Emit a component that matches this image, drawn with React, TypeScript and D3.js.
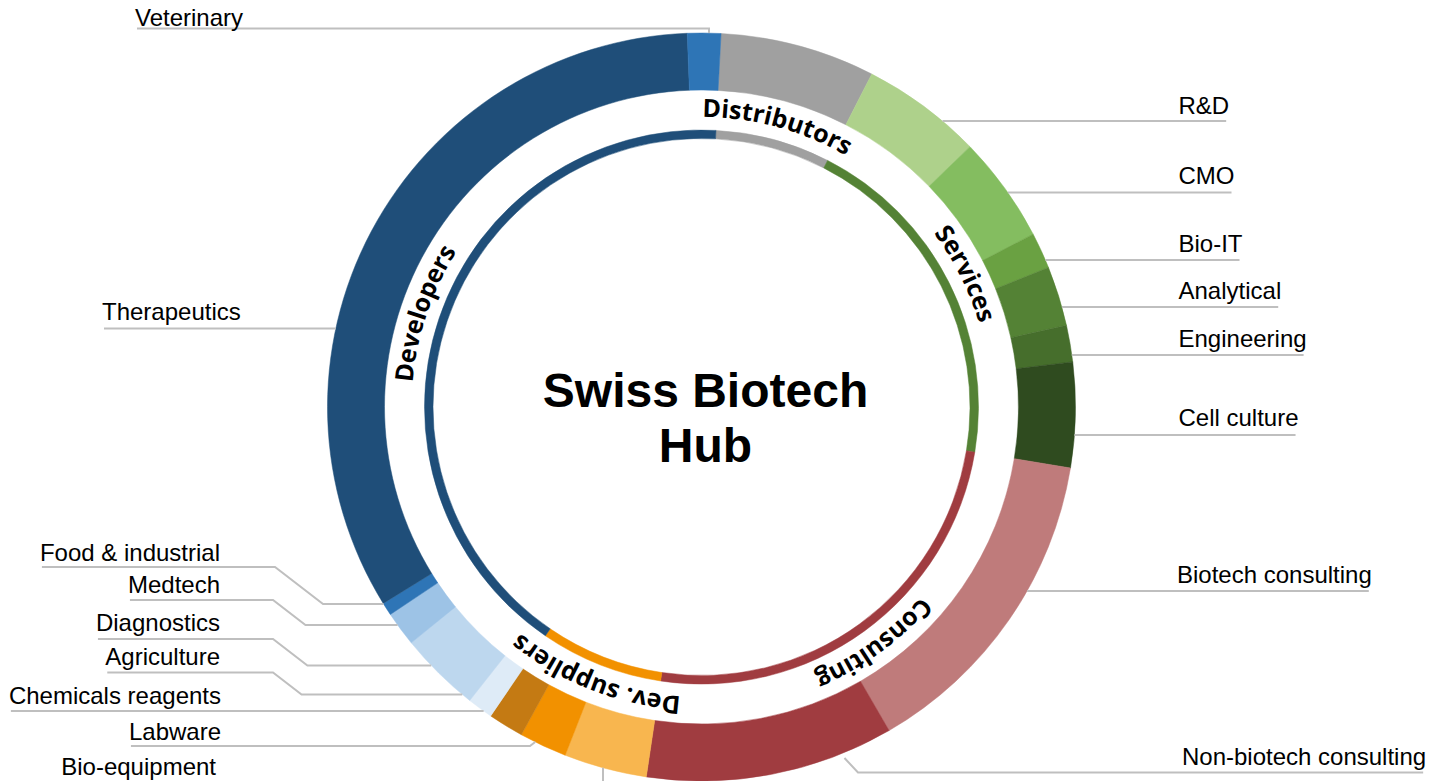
import * as d3 from 'd3';
import React, { useRef, useEffect } from 'react';

// outer ring, clockwise from the top (Distributors starts just right of 12 o'clock)
const segments = [
  'Distributors', 'R&D', 'CMO', 'Bio-IT', 'Analytical', 'Engineering', 'Cell culture',
  'Biotech consulting', 'Non-biotech consulting', 'Bio-equipment', 'Labware',
  'Chemicals reagents', 'Agriculture', 'Diagnostics', 'Medtech', 'Food & industrial',
  'Therapeutics', 'Veterinary'
];
// share of companies, %
const shares = [6.69, 5.22, 4.61, 1.56, 2.58, 1.58, 4.53, 14.03, 10.72, 3.58, 2.06, 1.53, 1.11, 3.5, 1.5, 0.56, 33.19, 1.44];
const segmentGroup = [
  'Distributors', 'Services', 'Services', 'Services', 'Services', 'Services', 'Services',
  'Consulting', 'Consulting', 'Dev. suppliers', 'Dev. suppliers', 'Dev. suppliers',
  'Developers', 'Developers', 'Developers', 'Developers', 'Developers', 'Developers'
];
const segmentColors = [
  '#a0a0a0', '#aed18b', '#84bd60', '#6aa142', '#548235', '#466e2c', '#2f4b1f',
  '#bf7b7b', '#a03c40', '#f8b64f', '#f29100', '#c47a13',
  '#deebf7', '#bdd7ee', '#9dc3e6', '#2e75b6', '#1f4e79', '#2e75b6'
];
const groups = ['Distributors', 'Services', 'Consulting', 'Dev. suppliers', 'Developers'];
const groupColors = ['#a0a0a0', '#548235', '#a03c40', '#f29100', '#1f4e79'];
const titleLines = ['Swiss Biotech', 'Hub'];

interface LabelLayout {
  name: string;
  side: 'left' | 'right';
  x: number;
  anchor: 'start' | 'end';
  baseline: number;
  lineY: number;
  elbowX?: number;
  anchorY?: number;
  vertical?: boolean;
}

const labelLayout: LabelLayout[] = [
  { name: 'Veterinary', side: 'left', x: 135, anchor: 'start', baseline: 26, lineY: 28.5, elbowX: 709, vertical: true },
  { name: 'Therapeutics', side: 'left', x: 102, anchor: 'start', baseline: 320, lineY: 328.5 },
  { name: 'Food & industrial', side: 'left', x: 220, anchor: 'end', baseline: 561, lineY: 567, elbowX: 275, anchorY: 604 },
  { name: 'Medtech', side: 'left', x: 220, anchor: 'end', baseline: 593, lineY: 600, elbowX: 273, anchorY: 625 },
  { name: 'Diagnostics', side: 'left', x: 220, anchor: 'end', baseline: 631, lineY: 639, elbowX: 273, anchorY: 665.5 },
  { name: 'Agriculture', side: 'left', x: 220, anchor: 'end', baseline: 664.5, lineY: 672.5, elbowX: 273, anchorY: 694.5 },
  { name: 'Chemicals reagents', side: 'left', x: 221, anchor: 'end', baseline: 703.5, lineY: 711 },
  { name: 'Labware', side: 'left', x: 221, anchor: 'end', baseline: 739.5, lineY: 746, elbowX: 530, anchorY: 742 },
  { name: 'Bio-equipment', side: 'left', x: 216, anchor: 'end', baseline: 775, lineY: 785, elbowX: 603, vertical: true },
  { name: 'R&D', side: 'right', x: 1178.5, anchor: 'start', baseline: 113.5, lineY: 121 },
  { name: 'CMO', side: 'right', x: 1178.5, anchor: 'start', baseline: 183.5, lineY: 192.5 },
  { name: 'Bio-IT', side: 'right', x: 1178.5, anchor: 'start', baseline: 252, lineY: 260 },
  { name: 'Analytical', side: 'right', x: 1178.5, anchor: 'start', baseline: 298.5, lineY: 307 },
  { name: 'Engineering', side: 'right', x: 1178.5, anchor: 'start', baseline: 347, lineY: 355 },
  { name: 'Cell culture', side: 'right', x: 1178.5, anchor: 'start', baseline: 425.5, lineY: 435 },
  { name: 'Biotech consulting', side: 'right', x: 1177, anchor: 'start', baseline: 583, lineY: 591 },
  { name: 'Non-biotech consulting', side: 'right', x: 1182, anchor: 'start', baseline: 765, lineY: 772.5, elbowX: 858, anchorY: 758 },
];

const App: React.FC = () => {
  const ref = useRef<SVGSVGElement>(null);

  useEffect(() => {
    if (!ref.current) return;
    const cx = 701.5, cy = 407;
    const outerR = 374, innerR = 317;
    const ringOuter = 277, ringInner = 268.5;
    const labelR = 290;
    const start = 3.0 * Math.PI / 180;

    const svg = d3.select(ref.current);
    svg.selectAll('*').remove();
    const g = svg.append('g').attr('transform', `translate(${cx},${cy})`);

    const data = segments.map((name, i) => ({
      name, value: shares[i], group: segmentGroup[i], color: segmentColors[i]
    }));

    const pie = d3.pie<any>()
      .value(d => d.value)
      .sort(null)
      .startAngle(start)
      .endAngle(start + 2 * Math.PI);

    const arc = d3.arc<any>().innerRadius(innerR).outerRadius(outerR);
    g.selectAll('.seg')
      .data(pie(data))
      .enter()
      .append('path')
      .attr('class', 'seg')
      .attr('d', arc)
      .attr('fill', d => d.data.color)
      .attr('stroke', d => d.data.color)
      .attr('stroke-width', 0.5);

    // inner ring = group totals
    const totals = groups.map((name, i) => ({
      name,
      color: groupColors[i],
      value: d3.sum(data.filter(d => d.group === name), d => d.value)
    }));
    const groupArcs = pie(totals);
    const ringArc = d3.arc<any>().innerRadius(ringInner).outerRadius(ringOuter);
    g.selectAll('.grp')
      .data(groupArcs)
      .enter()
      .append('path')
      .attr('class', 'grp')
      .attr('d', ringArc)
      .attr('fill', d => d.data.color)
      .attr('stroke', d => d.data.color)
      .attr('stroke-width', 0.5);

    // curved group names, centred on each group's middle angle
    const pt = (a: number, r: number) => [r * Math.sin(a), -r * Math.cos(a)];
    const half = 70 * Math.PI / 180;
    groupArcs.forEach((d, i) => {
      const mid = (d.startAngle + d.endAngle) / 2;
      const [x0, y0] = pt(mid - half, labelR);
      const [x1, y1] = pt(mid + half, labelR);
      g.append('path')
        .attr('id', `grp-path-${i}`)
        .attr('d', `M${x0},${y0} A${labelR},${labelR} 0 0 1 ${x1},${y1}`)
        .attr('fill', 'none');
      g.append('text')
        .attr('font-family', '"Open Sans", "Noto Sans", sans-serif')
        .attr('font-weight', 700)
        .attr('font-size', 25)
        .attr('fill', '#000')
        .append('textPath')
        .attr('href', `#grp-path-${i}`)
        .attr('startOffset', '50%')
        .attr('text-anchor', 'middle')
        .text(d.data.name);
    });

    // centre title
    titleLines.forEach((s, i) => {
      svg.append('text')
        .attr('x', cx + 4)
        .attr('y', 406.5 + i * 55)
        .attr('text-anchor', 'middle')
        .attr('font-family', '"Liberation Sans", Arial, sans-serif')
        .attr('font-weight', 700)
        .attr('font-size', 48)
        .attr('fill', '#000')
        .text(s);
    });

    // side labels with leader lines
    const ringX = (y: number, side: 'left' | 'right', r = outerR) => {
      const dy = y - cy;
      const dx = Math.sqrt(Math.max(0, r * r - dy * dy));
      return side === 'left' ? cx - dx : cx + dx;
    };
    const ringY = (x: number, top: boolean) => {
      const dx = x - cx;
      const dy = Math.sqrt(Math.max(0, outerR * outerR - dx * dx));
      return top ? cy - dy : cy + dy;
    };
    const line = d3.line();
    const leaders = svg.append('g');
    const labels = svg.append('g');

    labelLayout.forEach(l => {
      const t = labels.append('text')
        .attr('x', l.x)
        .attr('y', l.baseline)
        .attr('text-anchor', l.anchor)
        .attr('font-family', '"Liberation Sans", Arial, sans-serif')
        .attr('font-size', 24)
        .attr('fill', '#000')
        .text(l.name);
      const w = (t.node() as SVGTextElement).getComputedTextLength();
      const left = l.anchor === 'start' ? l.x : l.x - w;
      const right = left + w;

      const pts: [number, number][] = [];
      if (l.side === 'left') {
        pts.push([left + 2, l.lineY]);
        if (l.vertical && l.elbowX !== undefined) {
          pts.push([l.elbowX, l.lineY]);
          pts.push([l.elbowX, ringY(l.elbowX, l.lineY < cy)]);
        } else if (l.elbowX !== undefined && l.anchorY !== undefined) {
          const ex = l.elbowX + Math.abs(l.anchorY - l.lineY) / 0.77;
          const rx = ringX(l.anchorY, 'left');
          pts.push([l.elbowX, l.lineY]);
          pts.push([Math.min(ex, rx), l.anchorY]);
          pts.push([rx, l.anchorY]);
        } else {
          pts.push([ringX(l.lineY, 'left'), l.lineY]);
        }
      } else {
        if (l.elbowX !== undefined && l.anchorY !== undefined) {
          pts.push([ringX(l.anchorY, 'right', outerR + 5), l.anchorY]);
          pts.push([l.elbowX, l.lineY]);
        } else {
          pts.push([ringX(l.lineY, 'right'), l.lineY]);
        }
        pts.push([right - 3, l.lineY]);
      }
      leaders.append('path')
        .attr('d', line(pts))
        .attr('fill', 'none')
        .attr('stroke', '#bfbfbf')
        .attr('stroke-width', 2);
    });
  }, []);

  return (
    <svg
      ref={ref}
      width={1433}
      height={781}
      style={{ position: 'absolute', left: 0, top: 0, background: '#fff' }}
    />
  );
};

export default App;
